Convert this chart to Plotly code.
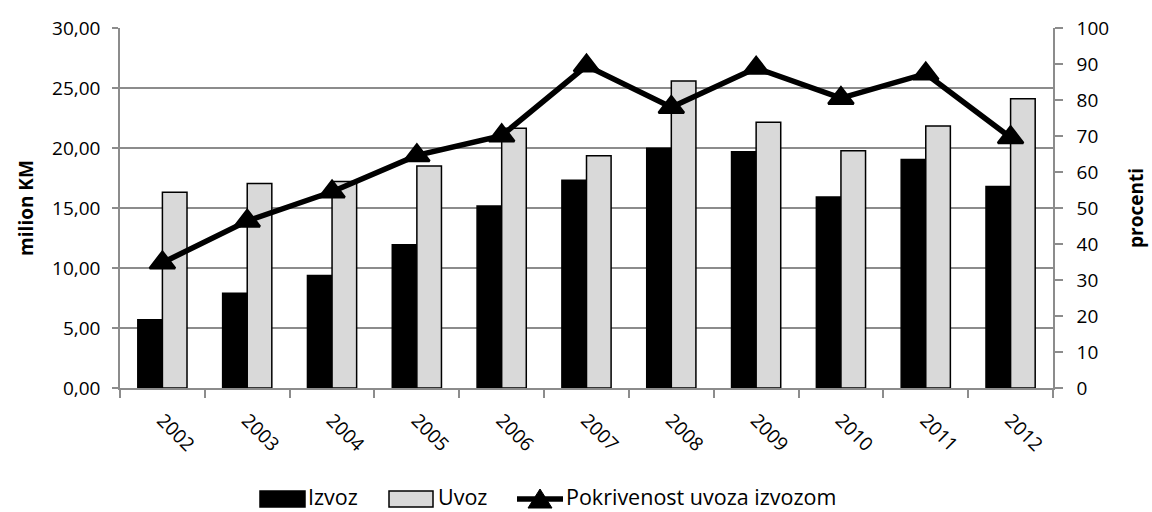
import plotly.graph_objects as go

# Godine i vrijednosti (milion KM) te pokrivenost uvoza izvozom (%)
godine = ["2002", "2003", "2004", "2005", "2006", "2007", "2008", "2009", "2010", "2011", "2012"]
izvoz = [5.68, 7.90, 9.37, 11.94, 15.17, 17.32, 19.97, 19.68, 15.92, 19.05, 16.79]
uvoz = [16.32, 17.04, 17.20, 18.49, 21.64, 19.35, 25.59, 22.14, 19.77, 21.83, 24.11]
pokrivenost = [34.8, 46.4, 54.5, 64.6, 70.1, 89.5, 78.0, 88.9, 80.5, 87.3, 69.6]

legenda = ["Izvoz", "Uvoz", "Pokrivenost uvoza izvozom"]

FONT = "Open Sans"
FS = 19
LEG_FS = 21.5
GRID = "#8c8c8c"
UVOZ_BOJA = "#d9d9d9"

W, H = 1152, 512
ML, MR, MT, MB = 120, 99, 28, 124
PW, PH = W - ML - MR, H - MT - MB


def px(x):
    """Horizontal pixel -> paper coordinate."""
    return (x - ML) / PW


def py(y):
    """Vertical pixel (from top) -> paper coordinate."""
    return (H - MB - y) / PH


fig = go.Figure()

fig.add_trace(go.Bar(
    x=godine, y=izvoz, name=legenda[0],
    marker=dict(color="black", line=dict(color="black", width=1.5)),
))
fig.add_trace(go.Bar(
    x=godine, y=uvoz, name=legenda[1],
    marker=dict(color=UVOZ_BOJA, line=dict(color="black", width=1.5)),
))
fig.add_trace(go.Scatter(
    x=godine, y=pokrivenost, name=legenda[2],
    yaxis="y2", mode="lines+markers",
    line=dict(color="black", width=5.5),
    marker=dict(symbol="triangle-up", size=22, color="black",
                line=dict(color="black", width=2.5)),
))

# Legenda ispod grafikona: pravokutnici, linija s trouglom i natpisi
shapes = []
annotations = []
leg_top, leg_bot = 491, 507
leg_mid = (leg_top + leg_bot) / 2
shapes.append(dict(type="rect", xref="paper", yref="paper",
                   x0=px(260), x1=px(305), y0=py(leg_bot), y1=py(leg_top),
                   fillcolor="black", line=dict(color="black", width=1.5)))
shapes.append(dict(type="rect", xref="paper", yref="paper",
                   x0=px(389), x1=px(433), y0=py(leg_bot), y1=py(leg_top),
                   fillcolor=UVOZ_BOJA, line=dict(color="black", width=1.5)))
shapes.append(dict(type="line", xref="paper", yref="paper",
                   x0=px(517), x1=px(563), y0=py(leg_mid), y1=py(leg_mid),
                   line=dict(color="black", width=5.5)))
tri_cx, tri_half = 540, 12
shapes.append(dict(type="path", xref="paper", yref="paper",
                   path=(f"M {px(tri_cx - tri_half)} {py(leg_bot + 1)} "
                         f"L {px(tri_cx + tri_half)} {py(leg_bot + 1)} "
                         f"L {px(tri_cx)} {py(leg_top - 2)} Z"),
                   fillcolor="black", line=dict(color="black", width=1)))
for tx, txt in [(307, legenda[0]), (437, legenda[1]), (565, legenda[2])]:
    annotations.append(dict(x=px(tx), y=py(496.5), xref="paper", yref="paper",
                            text=txt, showarrow=False, xanchor="left", yanchor="middle",
                            borderpad=0,
                            font=dict(family=FONT, size=LEG_FS, color="black")))

fig.update_layout(
    width=W, height=H,
    margin=dict(l=ML, r=MR, t=MT, b=MB, autoexpand=False),
    paper_bgcolor="white", plot_bgcolor="white",
    separators=",.",
    font=dict(family=FONT, size=FS, color="black"),
    barmode="group", bargap=0.42, bargroupgap=0,
    showlegend=False,
    shapes=shapes,
    annotations=annotations,
    xaxis=dict(
        type="category", range=[-0.5, len(godine) - 0.5],
        tickangle=45, tickson="boundaries",
        ticks="outside", ticklen=8, tickcolor=GRID, tickwidth=1.5,
        showline=True, linecolor=GRID, linewidth=1.5,
        showgrid=False, tickfont=dict(size=FS), ticklabelstandoff=12,
        automargin=False,
    ),
    yaxis=dict(
        range=[0, 30], dtick=5, tickformat=".2f",
        ticks="outside", ticklen=6, tickcolor=GRID, tickwidth=1.5,
        showline=True, linecolor=GRID, linewidth=1.5,
        showgrid=True, gridcolor=GRID, gridwidth=1.5, zeroline=False,
        title=dict(text="<b>milion KM</b>", standoff=13, font=dict(size=FS)),
        tickfont=dict(size=FS), ticklabelstandoff=8, automargin=False,
    ),
    yaxis2=dict(
        range=[0, 100], dtick=10, overlaying="y", side="right",
        ticks="outside", ticklen=8, tickcolor=GRID, tickwidth=1.5,
        showline=True, linecolor=GRID, linewidth=1.5,
        showgrid=False, zeroline=False,
        title=dict(text="<b>procenti</b>", standoff=22, font=dict(size=FS)),
        tickfont=dict(size=FS), ticklabelstandoff=10, automargin=False,
    ),
)

fig.write_html("out.html")
